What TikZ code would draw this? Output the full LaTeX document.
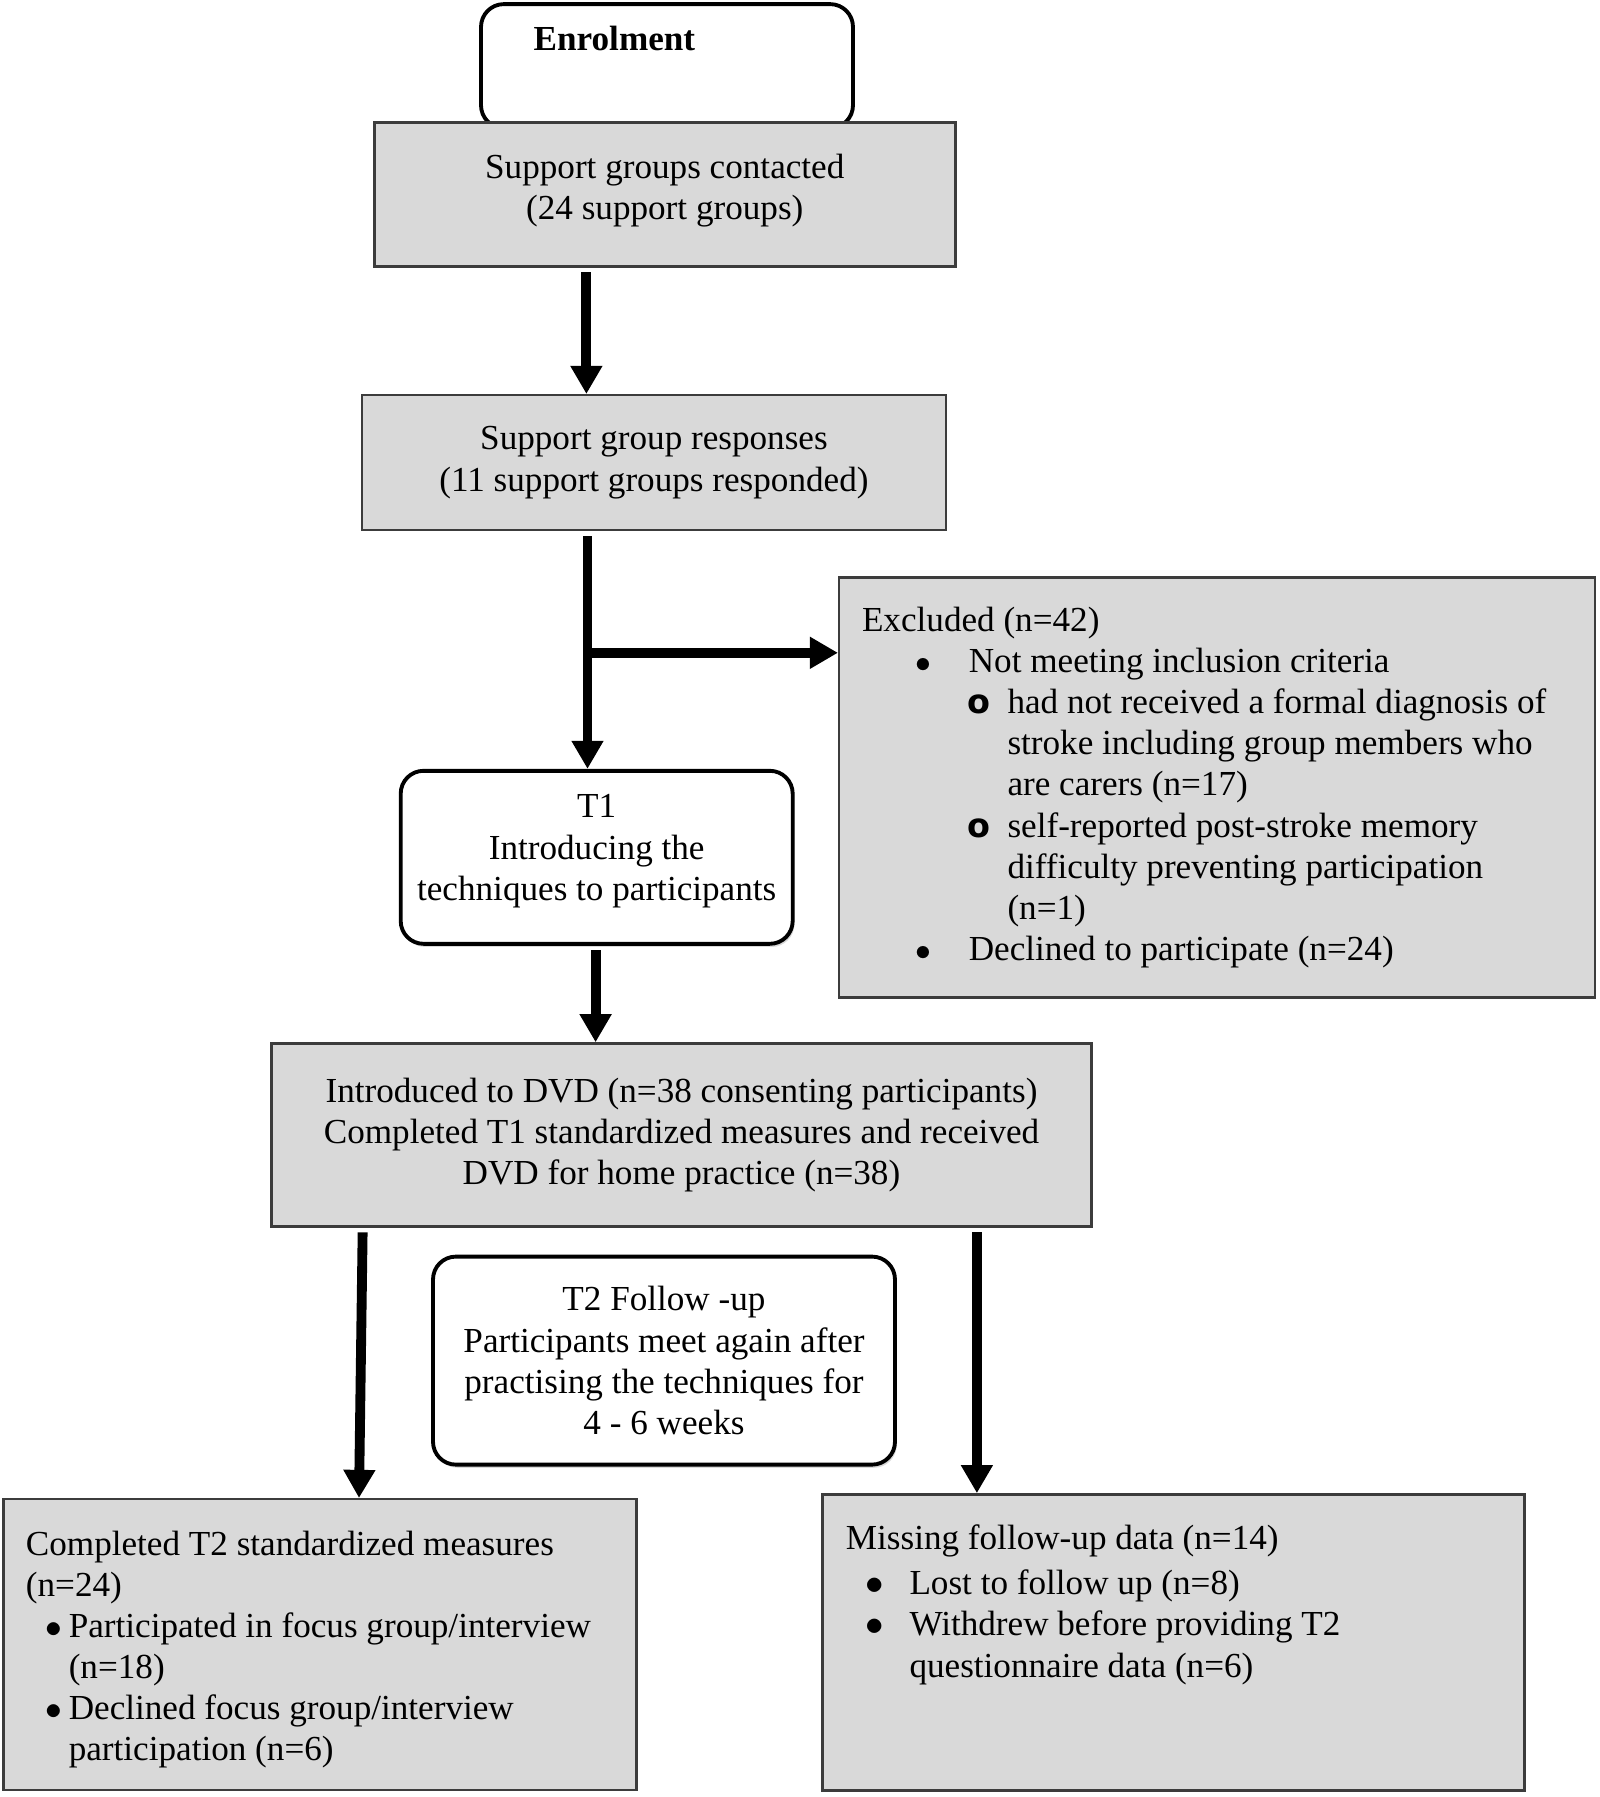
\documentclass[tikz,border=0pt]{standalone}
\usepackage{fontspec}
\setmainfont{Liberation Serif}
\newfontfamily\ringfont{DejaVu Sans}
\usepackage{graphicx}
\usepackage{tikz}
\usetikzlibrary{arrows.meta}
\usetikzlibrary{shadows}
\definecolor{boxgrey}{RGB}{217,217,217}
\definecolor{boxline}{RGB}{60,60,60}
\newcommand{\dotitem}[3][1]{\hspace*{\dimexpr#2-3pt\relax}\makebox[6pt][c]{\scalebox{#1}{$\bullet$}}\hspace*{\dimexpr#3-#2-3pt\relax}}
\newcommand{\ringitem}[2]{\hspace*{\dimexpr#1-3pt\relax}\makebox[6pt][c]{\ringfont\bfseries\fontsize{9.5}{9.5}\selectfont o}\hspace*{\dimexpr#2-#1-3pt\relax}}

\begin{document}
\begin{tikzpicture}
[
greybox/.style={rectangle, draw=boxline, line width=0.7pt, fill=boxgrey, align=center, font=\fontsize{10}{11.7}\selectfont},
roundbox/.style={rectangle, rounded corners=6.5pt, draw, line width=1.1pt, fill=white, align=center, font=\fontsize{10}{11.7}\selectfont},
shadowed/.style={drop shadow={shadow xshift=0.5pt, shadow yshift=-0.9pt, opacity=0.3}},
text-l/.style={anchor=north west, inner sep=0pt, align=left, font=\fontsize{10}{11.7}\selectfont},
arrow/.style={line width=2.8pt, -{Triangle[width=8.6pt,length=8pt]}, shorten <=1.3pt},
]
\useasboundingbox (0,0) rectangle (16.0,-17.97);
\node (enrol) [roundbox, minimum width=37.2mm, minimum height=12.4mm] at (6.67,-0.661) {};
\node (enrol-l) [anchor=base west, inner sep=0pt, font=\fontsize{10}{11.7}\selectfont\bfseries] at (5.330,-0.500) {Enrolment};
\node (contact) [greybox, minimum width=58.1mm, minimum height=14.4mm] at (6.648,-1.946) {Support groups contacted\\(24 support groups)\\[-7.1pt]};
\node (responses) [greybox, minimum width=58.4mm, minimum height=13.5mm] at (6.540,-4.627) {Support group responses\\(11 support groups responded)};
\node (excluded) [greybox, minimum width=75.6mm, minimum height=42.0mm] at (12.172,-7.874) {};
\node (excluded-l) [text-l] at (8.613,-6.063) {Excluded (n=42)\\
\dotitem[0.9]{17.4pt}{30.4pt}Not meeting inclusion criteria\\
\ringitem{33.3pt}{41.4pt}had not received a formal diagnosis of\\
\hspace*{41.4pt}stroke including group members who\\
\hspace*{41.4pt}are carers (n=17)\\
\ringitem{33.3pt}{41.4pt}self-reported post-stroke memory\\
\hspace*{41.4pt}difficulty preventing participation\\
\hspace*{41.4pt}(n=1)\\
\dotitem[0.9]{17.4pt}{30.4pt}Declined to participate (n=24)};
\node (t1) [roundbox, shadowed, minimum width=39.2mm, minimum height=17.3mm] at (5.967,-8.573) {T1\\Introducing the\\techniques to participants\\[-6.1pt]};
\node (dvd) [greybox, minimum width=82.0mm, minimum height=18.3mm] at (6.815,-11.350) {Introduced to DVD (n=38 consenting participants)\\Completed T1 standardized measures and received\\DVD for home practice (n=38)};
\node (t2) [roundbox, shadowed, minimum width=46.2mm, minimum height=20.8mm] at (6.640,-13.606) {T2 Follow -up\\Participants meet again after\\practising the techniques for\\4 - 6 weeks};
\node (done) [greybox, minimum width=63.3mm, minimum height=29.1mm] at (3.201,-16.447) {};
\node (done-l) [text-l] at (0.252,-15.302) {Completed T2 standardized measures\\
(n=24)\\
\dotitem[0.95]{8.0pt}{12.2pt}Participated in focus group/interview\\
\hspace*{12.2pt}(n=18)\\
\dotitem[0.95]{8.0pt}{12.2pt}Declined focus group/interview\\
\hspace*{12.2pt}participation (n=6)};
\node (missing) [greybox, minimum width=70.2mm, minimum height=29.6mm] at (11.734,-16.424) {};
\node (missing-l) [text-l] at (8.452,-15.240) {Missing follow-up data (n=14)\\[1.2pt]
\dotitem[1.05]{8.1pt}{18.1pt}Lost to follow up (n=8)\\
\dotitem[1.05]{8.1pt}{18.1pt}Withdrew before providing T2\\
\hspace*{18.1pt}questionnaire data (n=6)};
\coordinate (a1) at (5.864,0);
\coordinate (split) at (5.875,-6.528);
\coordinate (a3) at (5.956,0);
\coordinate (a4) at (3.627,0);
\coordinate (a4b) at (3.590,0);
\coordinate (a5) at (9.769,0);
\draw [arrow] (contact.south -| a1) -- (responses.north -| a1);
\draw [arrow] (responses.south -| split) -- (t1.north -| split);
\draw [arrow, shorten <=0pt] (split) -- (split -| excluded.west);
\draw [arrow] (t1.south -| a3) -- (dvd.north -| a3);
\draw [arrow] (dvd.south -| a4) -- (done.north -| a4b);
\draw [arrow] (dvd.south -| a5) -- (missing.north -| a5);
\end{tikzpicture}
\end{document}
